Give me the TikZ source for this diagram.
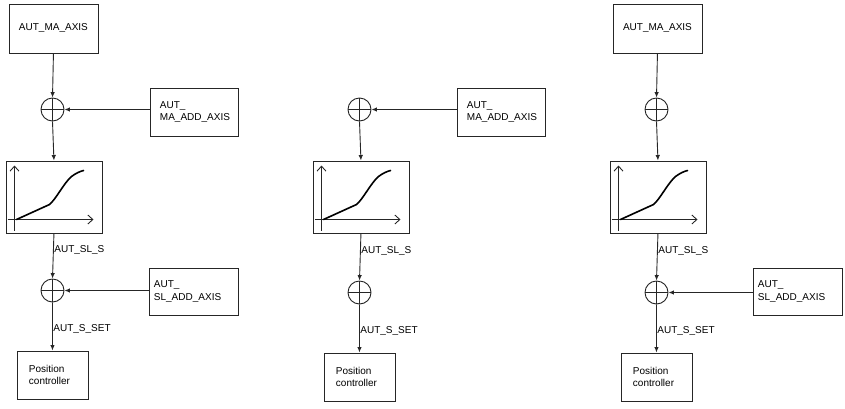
\documentclass[tikz,border=0pt]{standalone}
\usepackage{fontspec}
\setmainfont{Liberation Sans}
\usetikzlibrary{arrows.meta}
\tikzset{
  box/.style={draw=black!85, line width=0.9pt, inner ysep=0pt, anchor=north west,
    font=\fontsize{10}{12.5}\selectfont},
  sum/.style={draw=black!85, line width=0.9pt, circle, minimum size=23pt, inner sep=0pt,
    path picture={\draw[black!85, line width=0.8pt]
      (path picture bounding box.north) -- (path picture bounding box.south)
      (path picture bounding box.west) -- (path picture bounding box.east);}},
  conn/.style={draw=black!85, line width=0.9pt, -{Latex[length=5.5pt,width=4.5pt]}},
  axis/.style={draw=black!85, line width=0.9pt, -{Straight Barb[length=5pt,width=9pt]}},
  curve/.style={draw=black, line width=1.6pt, line cap=round},
  lbl/.style={font=\fontsize{10}{12}\selectfont, anchor=west, inner sep=0pt, xshift=0.5pt},
}
\newcommand\mycolupper{%
  \node[sum] (s1) at (52,109) {};
  \node[box, minimum width=96pt, minimum height=72pt] (cv) at (5,160) {};
  \begin{scope}[shift={(cv.north west)}]
    \draw[axis] (9,70) -- (9,5);
    \draw[axis] (2,59) -- (88,59);
    \draw[curve] (11,59) -- (44,44)
      .. controls (51,38) and (58,23) .. (66,16)
      .. controls (70,13) and (74,11) .. (78,10);
  \end{scope}
  \draw[conn] (s1.south) -- (cv.north);
}
\newcommand\mycollower[1]{%
  \begin{scope}[shift={(0,#1)}]
    \node[sum] (s2) at (52,290) {};
    \node[box, minimum width=71pt, minimum height=48pt, text width=47pt,
      inner xsep=12pt, align=left] (pc) at (16,350) {Position\\controller};
  \end{scope}
  \draw[conn] (cv.south) -- node[lbl, pos=0.37] {AUT\_SL\_S} (s2.north);
  \draw[conn] (s2.south) -- node[lbl, pos=0.56] {AUT\_S\_SET} (pc.north);
}
\newcommand\mycolmatop{%
  \node[box, minimum width=89pt, minimum height=49pt, text width=85pt,
    inner xsep=2pt, align=center] (ma) at (8,3) {AUT\_MA\_AXIS};
  \draw[conn] (ma.south) -- (s1.north);
}
\newcommand\mycolmaadd{%
  \node[box, minimum width=88pt, minimum height=48pt, text width=68pt,
    inner xsep=10pt, align=left] (maadd) at (149,87) {AUT\_\\MA\_ADD\_AXIS};
  \draw[conn] (maadd.west |- s1.east) -- (s1.east);
}
\newcommand\mycolsladd{%
  \node[box, minimum width=89pt, minimum height=47pt, text width=79pt,
    inner xsep=5pt, align=left] (sladd) at (148,267) {AUT\_\\SL\_ADD\_AXIS};
  \draw[conn] (sladd.west |- s2.east) -- (s2.east);
}
\begin{document}
\begin{tikzpicture}[x=1pt, y=-1pt]
  \useasboundingbox (0,0) rectangle (845,408);
  \begin{scope}[name prefix=a-, shift={(0.5,0.5)}]
    \mycolupper
    \mycollower{0}
    \mycolmatop
    \mycolmaadd
    \mycolsladd
  \end{scope}
  \begin{scope}[name prefix=b-, shift={(307.5,0.5)}]
    \mycolupper
    \mycollower{2}
    \mycolmaadd
  \end{scope}
  \begin{scope}[name prefix=c-, shift={(604.5,0.5)}]
    \mycolupper
    \mycollower{2}
    \mycolmatop
    \mycolsladd
  \end{scope}
\end{tikzpicture}
\end{document}
